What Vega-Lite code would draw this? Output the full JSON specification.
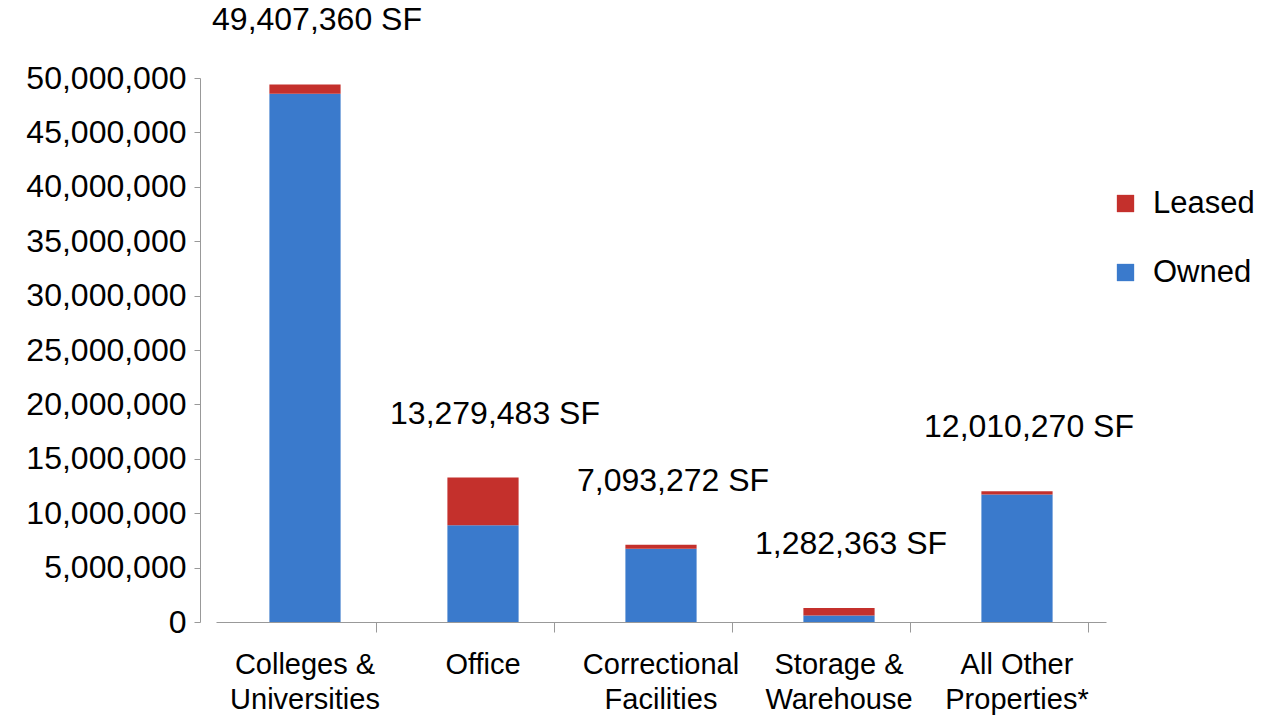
{
  "$schema": "https://vega.github.io/schema/vega-lite/v6.json",
  "autosize": {"type": "none"},
  "width": 890,
  "height": 544,
  "padding": {"left": 216, "top": 78, "right": 156, "bottom": 95},
  "background": "white",
  "config": {
    "view": {"stroke": null},
    "font": "Liberation Sans",
    "axis": {"labelFont": "Liberation Sans", "labelColor": "black", "labelFontSize": 29, "domainColor": "#999999", "tickColor": "#999999", "grid": false},
    "legend": {"labelFont": "Liberation Sans", "labelFontSize": 31, "labelColor": "black"}
  },
  "data": {
    "values": [
      {"category": "Colleges & Universities", "type": "Owned", "sqft": 48557360},
      {"category": "Colleges & Universities", "type": "Leased", "sqft": 850000},
      {"category": "Office", "type": "Owned", "sqft": 8900000},
      {"category": "Office", "type": "Leased", "sqft": 4379483},
      {"category": "Correctional Facilities", "type": "Owned", "sqft": 6743272},
      {"category": "Correctional Facilities", "type": "Leased", "sqft": 350000},
      {"category": "Storage & Warehouse", "type": "Owned", "sqft": 600000},
      {"category": "Storage & Warehouse", "type": "Leased", "sqft": 682363},
      {"category": "All Other Properties*", "type": "Owned", "sqft": 11710270},
      {"category": "All Other Properties*", "type": "Leased", "sqft": 300000}
    ]
  },
  "layer": [
    {
      "mark": {"type": "bar"},
      "encoding": {
        "x": {
          "field": "category", "type": "nominal", "sort": null,
          "scale": {"paddingInner": 0.6, "paddingOuter": 0.3},
          "axis": {
            "title": null, "labelAngle": 0, "labelPadding": 18, "tickSize": 10, "bandPosition": 1.5,
            "labelLineHeight": 35, "labelBaseline": "top",
            "labelExpr": "datum.label == 'Colleges & Universities' ? ['Colleges &', 'Universities'] : datum.label == 'Correctional Facilities' ? ['Correctional', 'Facilities'] : datum.label == 'Storage & Warehouse' ? ['Storage &', 'Warehouse'] : datum.label == 'All Other Properties*' ? ['All Other', 'Properties*'] : datum.label"
          }
        },
        "y": {
          "field": "sqft", "type": "quantitative", "stack": "zero",
          "scale": {"domain": [0, 50000000], "nice": false},
          "axis": {"title": null, "format": ",d", "labelFontSize": 32, "values": [0,5000000,10000000,15000000,20000000,25000000,30000000,35000000,40000000,45000000,50000000], "labelOverlap": false, "offset": 16, "tickSize": 6, "labelPadding": 8}
        },
        "color": {
          "field": "type", "type": "nominal",
          "scale": {"domain": ["Leased", "Owned"], "range": ["#c4302c", "#3a7acc"]},
          "legend": {"title": null, "orient": "none", "legendX": 894, "legendY": 110, "symbolType": "square", "symbolSize": 300, "rowPadding": 37, "labelOffset": 12, "symbolStrokeWidth": 0}
        },
        "order": {"field": "type", "sort": "descending"}
      }
    },
    {
      "transform": [
        {"aggregate": [{"op": "sum", "field": "sqft", "as": "total"}], "groupby": ["category"]},
        {"calculate": "format(datum.total, ',') + ' SF'", "as": "label"}
      ],
      "mark": {"type": "text", "fontSize": 32, "baseline": "bottom", "dy": -47, "dx": 12, "color": "black"},
      "encoding": {
        "x": {"field": "category", "type": "nominal", "sort": null},
        "y": {"field": "total", "type": "quantitative"},
        "text": {"field": "label"}
      }
    }
  ]
}
